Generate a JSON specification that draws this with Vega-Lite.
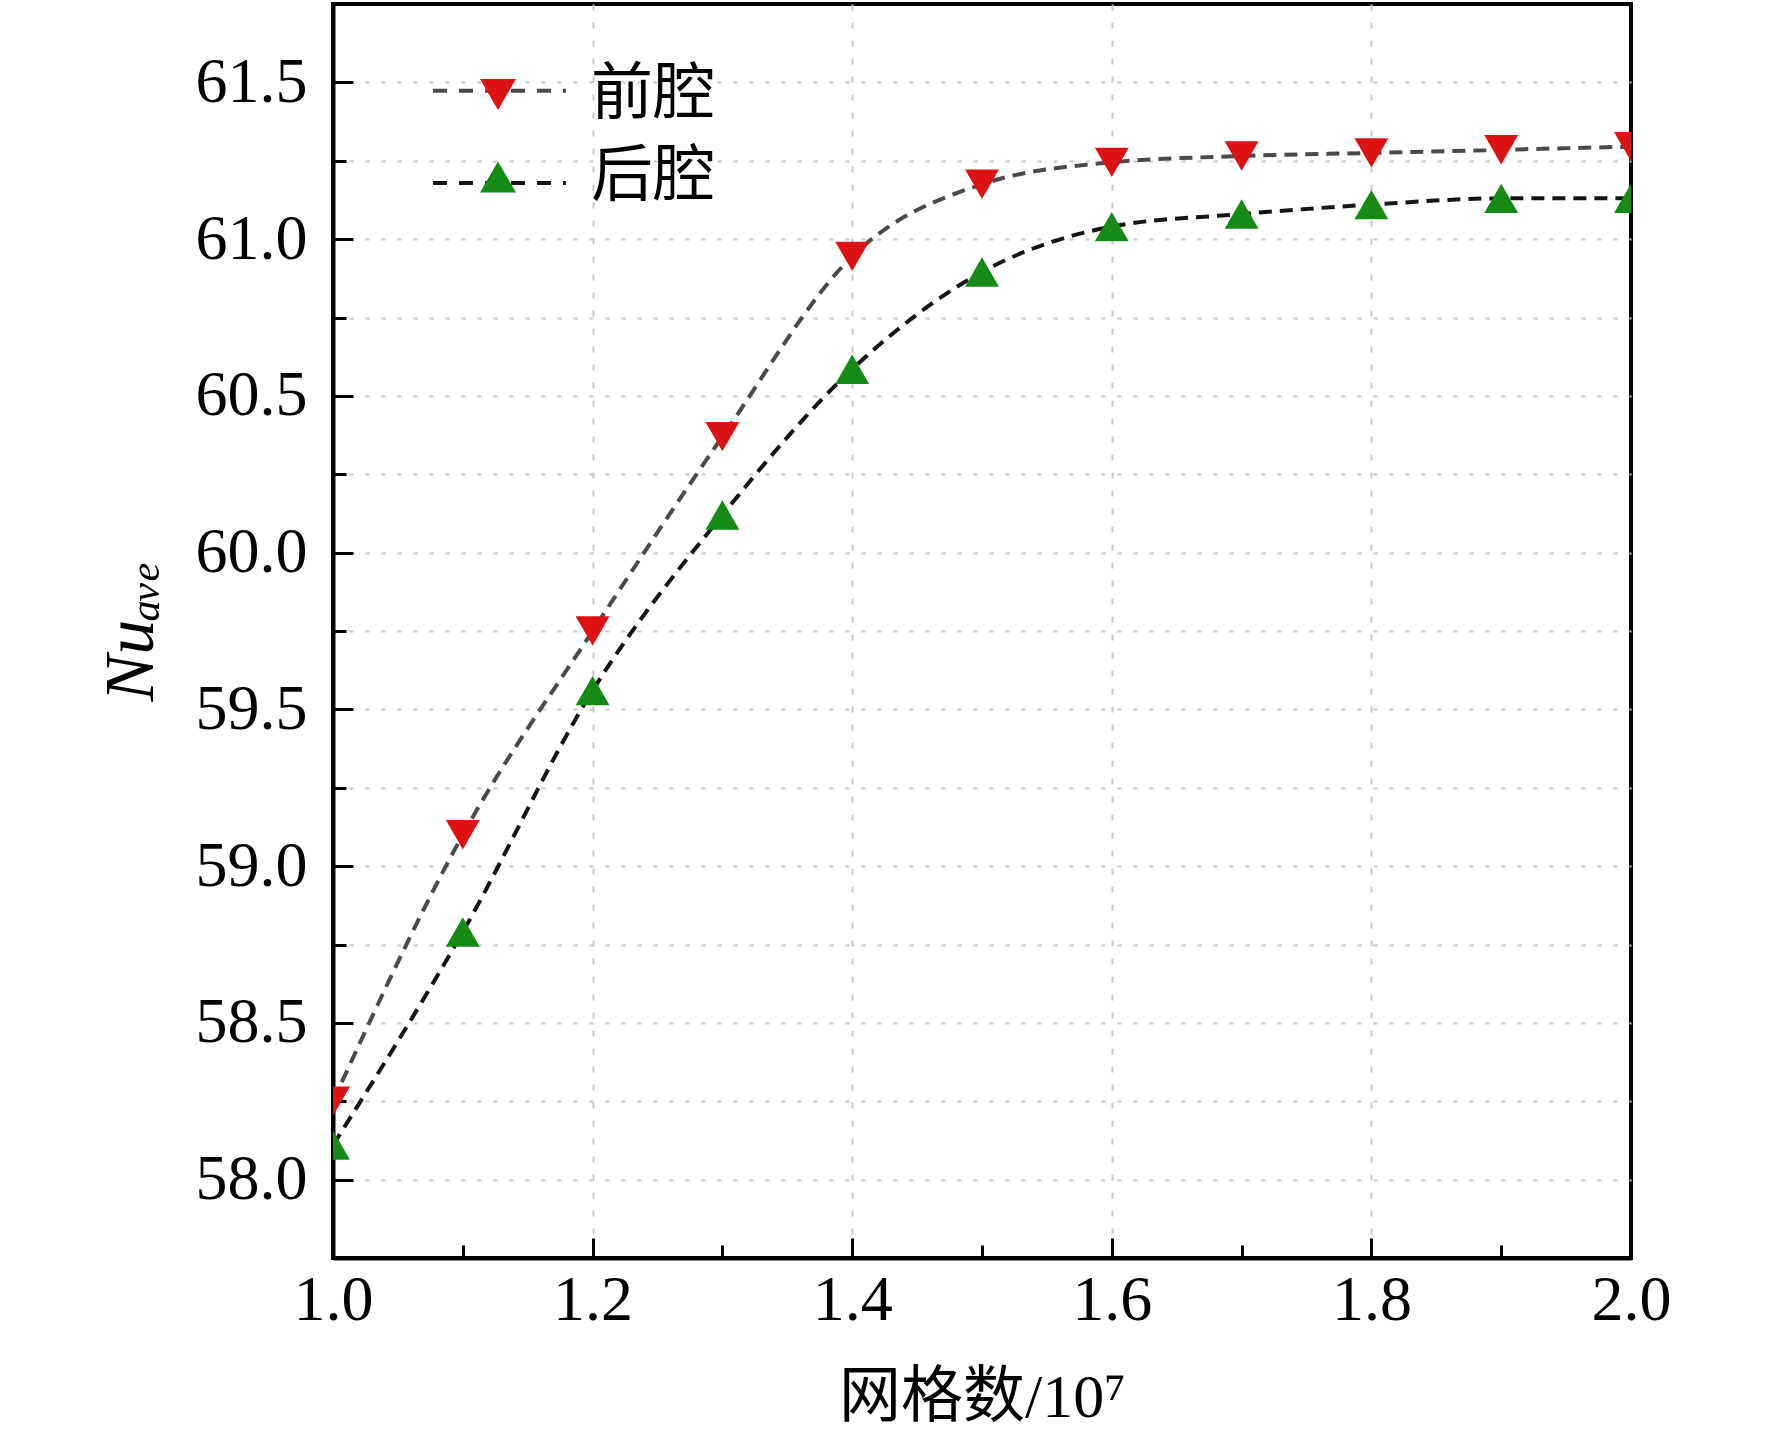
{
  "$schema": "https://vega.github.io/schema/vega-lite/v6.json",
  "width": 1298,
  "height": 1254,
  "autosize": "none",
  "padding": {"left": 333, "top": 4, "right": 141, "bottom": 185},
  "background": "white",
  "config": {
    "view": {"stroke": "black", "strokeWidth": 4},
    "axis": {
      "labelFont": "Liberation Serif",
      "labelFontSize": 64,
      "labelColor": "black",
      "titleColor": "black",
      "titleFontWeight": "normal",
      "domainColor": "black",
      "domainWidth": 4,
      "tickColor": "black",
      "tickWidth": 3
    }
  },
  "data": {
    "values": [
      {"n": 1.0, "nu": 58.25, "series": "前腔"},
      {"n": 1.1, "nu": 59.10, "series": "前腔"},
      {"n": 1.2, "nu": 59.75, "series": "前腔"},
      {"n": 1.3, "nu": 60.37, "series": "前腔"},
      {"n": 1.4, "nu": 60.945, "series": "前腔"},
      {"n": 1.5, "nu": 61.175, "series": "前腔"},
      {"n": 1.6, "nu": 61.245, "series": "前腔"},
      {"n": 1.7, "nu": 61.265, "series": "前腔"},
      {"n": 1.8, "nu": 61.275, "series": "前腔"},
      {"n": 1.9, "nu": 61.285, "series": "前腔"},
      {"n": 2.0, "nu": 61.295, "series": "前腔"},
      {"n": 1.0, "nu": 58.11, "series": "后腔"},
      {"n": 1.1, "nu": 58.79, "series": "后腔"},
      {"n": 1.2, "nu": 59.56, "series": "后腔"},
      {"n": 1.3, "nu": 60.12, "series": "后腔"},
      {"n": 1.4, "nu": 60.585, "series": "后腔"},
      {"n": 1.5, "nu": 60.895, "series": "后腔"},
      {"n": 1.6, "nu": 61.04, "series": "后腔"},
      {"n": 1.7, "nu": 61.08, "series": "后腔"},
      {"n": 1.8, "nu": 61.11, "series": "后腔"},
      {"n": 1.9, "nu": 61.13, "series": "后腔"},
      {"n": 2.0, "nu": 61.13, "series": "后腔"}
    ]
  },
  "layer": [
    {
      "mark": {"type": "point", "opacity": 0, "size": 1},
      "encoding": {
        "x": {
          "field": "n", "type": "quantitative",
          "scale": {"domain": [1.0, 2.0], "nice": false, "zero": false},
          "axis": {
            "orient": "bottom",
            "title": null,
            "values": [1.2, 1.4, 1.6, 1.8],
            "labels": false,
            "domain": false,
            "ticks": false,
            "grid": true,
            "gridColor": "#c8c8c8",
            "gridWidth": 2,
            "gridDash": [6, 12]
          }
        },
        "y": {
          "field": "nu", "type": "quantitative",
          "scale": {"domain": [57.75, 61.75], "nice": false, "zero": false},
          "axis": {
            "orient": "left",
            "title": null,
            "values": [58.0, 58.25, 58.5, 58.75, 59.0, 59.25, 59.5, 59.75, 60.0, 60.25, 60.5, 60.75, 61.0, 61.25, 61.5],
            "labels": false,
            "domain": false,
            "ticks": false,
            "grid": true,
            "gridColor": "#c8c8c8",
            "gridWidth": 2,
            "gridDash": [4, 12]
          }
        }
      }
    },
    {
      "mark": {"type": "line", "interpolate": "monotone", "strokeWidth": 4, "strokeDash": [13, 8], "clip": true},
      "encoding": {
        "x": {
          "field": "n", "type": "quantitative",
          "axis": {
            "orient": "bottom",
            "title": "网格数/10⁷",
            "titleFont": "Liberation Serif, Noto Sans CJK SC",
            "titleFontSize": 62,
            "titlePadding": 35,
            "values": [1.0, 1.2, 1.4, 1.6, 1.8, 2.0],
            "format": ".1f",
            "tickSize": -20,
            "labelPadding": 30,
            "labelFlush": false,
            "grid": false
          }
        },
        "y": {
          "field": "nu", "type": "quantitative",
          "axis": {
            "orient": "left",
            "title": "Nuₐᵥₑ",
            "titleFont": "Liberation Serif, DejaVu Serif",
            "titleFontSize": 70,
            "titleFontStyle": "italic",
            "titlePadding": 28,
            "values": [58.0, 58.5, 59.0, 59.5, 60.0, 60.5, 61.0, 61.5],
            "format": ".1f",
            "tickSize": -20,
            "labelPadding": 46,
            "labelFlush": false,
            "grid": false
          }
        },
        "color": {
          "field": "series", "type": "nominal",
          "scale": {"domain": ["前腔", "后腔"], "range": ["#4a4a4a", "#151515"]},
          "legend": {
            "orient": "none",
            "legendX": 98,
            "legendY": 54.7,
            "title": null,
            "padding": 0,
            "rowPadding": 28.3,
            "clipHeight": 64,
            "symbolType": "stroke",
            "symbolSize": 17689,
            "symbolStrokeWidth": 4,
            "symbolDash": [14, 12],
            "symbolStrokeColor": "#2a2a2a",
            "labelExpr": "''",
            "labelFontSize": 1,
            "labelOffset": 0,
            "zindex": 1
          }
        }
      }
    },
    {
      "mark": {"type": "point", "filled": true, "opacity": 1, "size": 1150, "strokeWidth": 0, "clip": true},
      "encoding": {
        "x": {
          "field": "n", "type": "quantitative",
          "axis": {
            "orient": "bottom",
            "title": null,
            "values": [1.1, 1.3, 1.5, 1.7, 1.9],
            "labels": false,
            "domain": false,
            "tickSize": -13,
            "grid": false
          }
        },
        "y": {
          "field": "nu", "type": "quantitative",
          "axis": {
            "orient": "left",
            "title": null,
            "values": [58.25, 58.75, 59.25, 59.75, 60.25, 60.75, 61.25],
            "labels": false,
            "domain": false,
            "tickSize": -13,
            "grid": false
          }
        },
        "shape": {
          "field": "series", "type": "nominal",
          "scale": {"range": ["triangle-down", "triangle-up"]},
          "legend": {
            "orient": "none",
            "legendX": 134,
            "legendY": 58.5,
            "title": null,
            "padding": 0,
            "rowPadding": 18.5,
            "clipHeight": 64,
            "symbolSize": 1296,
            "symbolStrokeWidth": 0,
            "labelOffset": 62,
            "labelFont": "Noto Sans CJK SC",
            "labelFontSize": 62,
            "labelColor": "black",
            "zindex": 2
          }
        },
        "fill": {
          "field": "series", "type": "nominal",
          "scale": {"range": ["#dd1313", "#158a15"]},
          "legend": {
            "orient": "none",
            "legendX": 134,
            "legendY": 58.5,
            "title": null,
            "padding": 0,
            "rowPadding": 18.5,
            "clipHeight": 64,
            "symbolSize": 1296,
            "symbolStrokeWidth": 0,
            "labelOffset": 62,
            "labelFont": "Noto Sans CJK SC",
            "labelFontSize": 62,
            "labelColor": "black",
            "zindex": 2
          }
        }
      }
    }
  ],
  "resolve": {"axis": {"x": "independent", "y": "independent"}}
}
